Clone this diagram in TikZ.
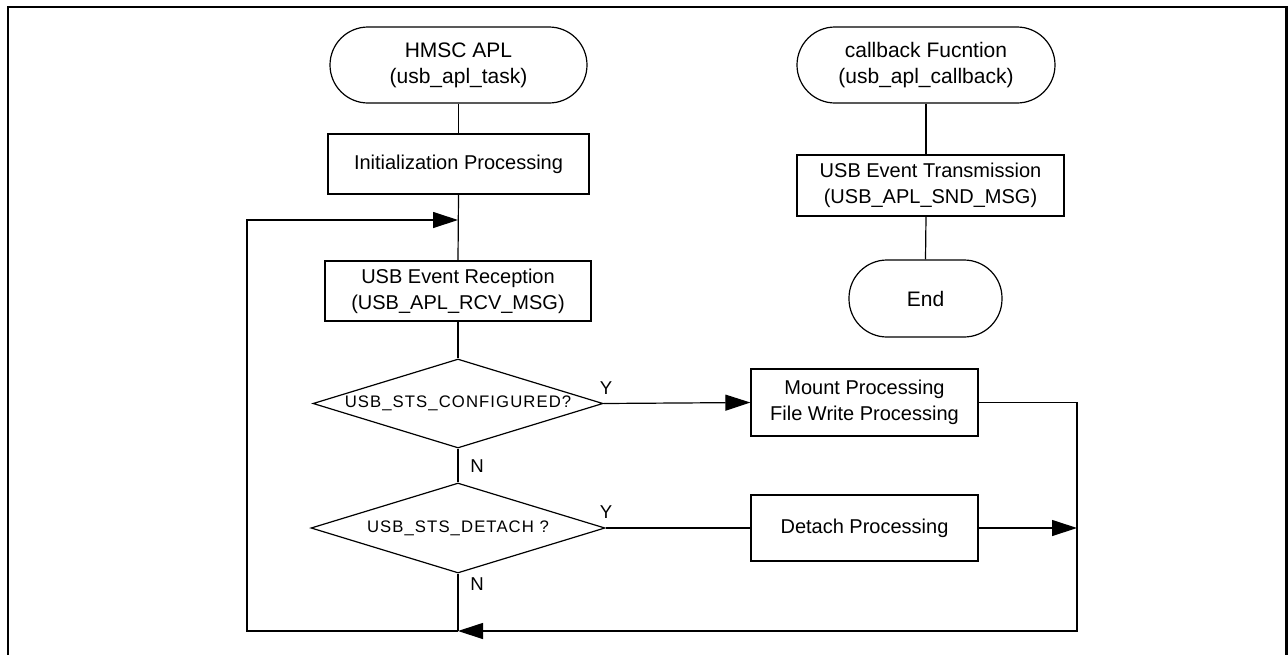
\documentclass[tikz,border=0pt]{standalone}
\usepackage{fontspec}
\setmainfont{Liberation Sans}
\newfontfamily\spacedfont[LetterSpace=6.5]{Liberation Sans}
\usetikzlibrary{shapes.geometric,arrows.meta}
\begin{document}
\begin{tikzpicture}[x=1pt,y=-1pt,line width=1.2pt,
  term/.style={draw, rectangle, rounded corners=38pt, minimum width=#1, minimum height=76pt, inner sep=0pt, align=center, font=\fontsize{21pt}{26pt}\selectfont},
  proc/.style={draw, rectangle, minimum width=#1, inner sep=0pt, align=center, font=\fontsize{20pt}{26pt}\selectfont},
  dec/.style={draw, diamond, shape aspect=3.26, minimum width=#1, minimum height=89pt, inner sep=0pt, font=\spacedfont\fontsize{16.7pt}{20pt}\selectfont},
  lbl/.style={inner sep=0pt, font=\fontsize{18.6pt}{20pt}\selectfont},
  arr/.style={-{Triangle[length=25pt,width=16pt]}}]
\useasboundingbox (0,0) rectangle (1288,654);
\draw[line width=2.5pt] (8,660) -- (8,7) -- (1286.5,7) -- (1286.5,660);

% left column
\node[term=257pt] (t1) at (458.5,65) {HMSC APL\\(usb\_apl\_task)};
\node[proc=261pt, minimum height=60pt] (init) at (458.5,164) {Initialization Processing};
\node[proc=266pt, minimum height=60pt] (ev) at (458,291) {USB Event Reception\\(USB\_APL\_RCV\_MSG)};
\node[dec=290pt] (d1) at (458,403.5) {USB\_STS\_CONFIGURED?};
\node[dec=294pt, minimum height=90pt] (d2) at (458,528) {USB\_STS\_DETACH ?};
\node[proc=227pt, minimum height=67pt] (mount) at (864.5,402.5) {Mount Processing\\File Write Processing};
\node[proc=227pt, minimum height=66pt] (det) at (864.5,528) {Detach Processing};

% right column
\node[term=258pt] (t2) at (926,65) {callback Fucntion\\(usb\_apl\_callback)};
\node[proc=267pt, minimum height=61pt] (tx) at (930.5,185.5) {USB Event Transmission\\(USB\_APL\_SND\_MSG)};
\node[term=153pt, minimum height=77pt] (end) at (925.5,298.5) {End};

% labels
\node[lbl] (y1) at (606,388) {Y};
\node[lbl] (y2) at (606,512) {Y};
\node[lbl] (n1) at (477,466) {N};
\node[lbl] (n2) at (477,584) {N};

% helper coordinates
\coordinate (j1) at (458,220);
\coordinate (jl) at (247,220);
\coordinate (bl) at (247,631);
\coordinate (jb) at (458,631);
\coordinate (br) at (1077,631);
\coordinate (jr) at (1077,528);
\coordinate (mr) at (1077,402.5);

% connectors
\draw (t1.south) -- (init.north);
\draw (init.south) -- (ev.north);
\draw (ev.south) -- (d1.north);
\draw (d1.south) -- (d2.north);
\draw (d2.south) -- (jb);
\draw[arr] (d1.east) -- (mount.west);
\draw (d2.east) -- (det.west);
\draw[arr] (det.east) -- (jr);
\draw[arr] (mount.east) -- (mr) -- (br) -- (jb);
\draw[arr] (jb) -- (bl) -- (jl) -- (j1);
\draw (t2.south) -- (t2.south |- tx.north);
\draw (t2.south |- tx.south) -- (end.north);
\end{tikzpicture}
\end{document}
